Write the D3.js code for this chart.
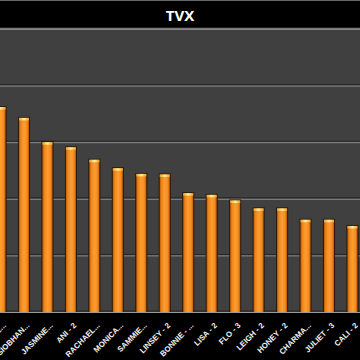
<!DOCTYPE html>
<html><head><meta charset="utf-8">
<script src="https://cdn.jsdelivr.net/npm/d3@7"></script>
<style>html,body{margin:0;padding:0;background:#000;overflow:hidden}svg{display:block}</style>
</head><body>
<script>
const title = "TVX";
const categories = ["JADE...","SIOBHAN...","JASMINE...","ANI - 2","RACHAEL...","MONICA...","SAMMIE...","LINSEY - 2","BONNIE - ...","LISA - 2","FLO - 3","LEIGH - 2","HONEY - 2","CHARMA...","JULIET - 3","CALI - 2"];
const values = [36.2,34.3,30.0,29.1,26.9,25.4,24.4,24.3,21.0,20.7,19.7,18.3,18.3,16.3,16.3,15.2];
const yTicks = [0,10,20,30,40,50];

const W = 360, H = 360;
const plot = {top: 29, bottom: 312};
const svg = d3.select("body").append("svg").attr("width", W).attr("height", H);
svg.append("rect").attr("width", W).attr("height", H).attr("fill", "#000");

const defs = svg.append("defs");
const g1 = defs.append("linearGradient").attr("id","barg").attr("x1","0").attr("x2","1").attr("y1","0").attr("y2","0");
[["0%","#b85a08"],["18%","#ec841a"],["50%","#ff9d30"],["80%","#f48c20"],["100%","#b55806"]].forEach(([o,c])=>g1.append("stop").attr("offset",o).attr("stop-color",c));
const g2 = defs.append("linearGradient").attr("id","capg").attr("x1","0").attr("x2","1").attr("y1","0").attr("y2","0");
[["0%","#e0a030"],["50%","#fff0a0"],["100%","#e0a030"]].forEach(([o,c])=>g2.append("stop").attr("offset",o).attr("stop-color",c));

// plot background
svg.append("rect").attr("x",0).attr("y",plot.top).attr("width",W).attr("height",plot.bottom-plot.top).attr("fill","#404040");

const x = d3.scaleBand().domain(categories).range([-11.2, 364.2]).paddingInner(0.57).paddingOuter(0.285);
const y = d3.scaleLinear().domain([0,50]).range([plot.bottom, plot.top]);

// gridlines
const grid = svg.append("g");
yTicks.forEach(t => {
  grid.append("line").attr("x1",0).attr("x2",W).attr("y1",y(t)-1).attr("y2",y(t)-1).attr("stroke","#262626").attr("stroke-width",1);
  grid.append("line").attr("x1",0).attr("x2",W).attr("y1",y(t)+0.5).attr("y2",y(t)+0.5).attr("stroke","#8a8a8a").attr("stroke-width",1);
});

// bars
const bars = svg.append("g").selectAll("g").data(categories).join("g");
bars.append("rect").attr("x", d => x(d)-1).attr("width", x.bandwidth()+2)
  .attr("y", (d,i) => y(values[i])-1).attr("height", (d,i) => plot.bottom - y(values[i])+1)
  .attr("fill","#2a1806");
bars.append("rect").attr("x", d => x(d)).attr("width", x.bandwidth())
  .attr("y", (d,i) => y(values[i])).attr("height", (d,i) => plot.bottom - y(values[i]))
  .attr("fill","url(#barg)");
bars.append("rect").attr("x", d => x(d)).attr("width", x.bandwidth())
  .attr("y", (d,i) => y(values[i])).attr("height", 2.5)
  .attr("fill","url(#capg)");

// baseline
svg.append("line").attr("x1",0).attr("x2",W).attr("y1",plot.bottom+0.5).attr("y2",plot.bottom+0.5).attr("stroke","#9a9a9a");

// title bar
svg.append("rect").attr("x",0).attr("y",0).attr("width",W).attr("height",plot.top-1).attr("fill","#000");
svg.append("line").attr("x1",0).attr("x2",W).attr("y1",plot.top-0.5).attr("y2",plot.top-0.5).attr("stroke","#7a7a7a").attr("stroke-width",1.5);
svg.append("rect").attr("x",0).attr("y",0).attr("width",W).attr("height",1).attr("fill","#666");
svg.append("text").attr("x",W/2).attr("y",20.5).attr("text-anchor","middle")
  .attr("fill","#fff").attr("font-family","Open Sans, Liberation Sans, sans-serif").attr("font-weight","bold").attr("font-size",15).text(title);

// x labels
const xAxis = d3.axisBottom(x).tickSize(0).tickPadding(0);
const ax = svg.append("g").attr("transform",`translate(0,${plot.bottom})`).call(xAxis);
ax.select(".domain").remove();
ax.selectAll("text")
  .attr("fill","#f2f2f2").attr("font-family","Liberation Sans Narrow, Liberation Sans, Arial, sans-serif")
  .attr("font-weight","bold").attr("font-size",7.8)
  .attr("text-anchor","end").attr("dy","0.35em")
  .attr("transform","translate(4,12) rotate(-45)");
</script>
</body></html>
